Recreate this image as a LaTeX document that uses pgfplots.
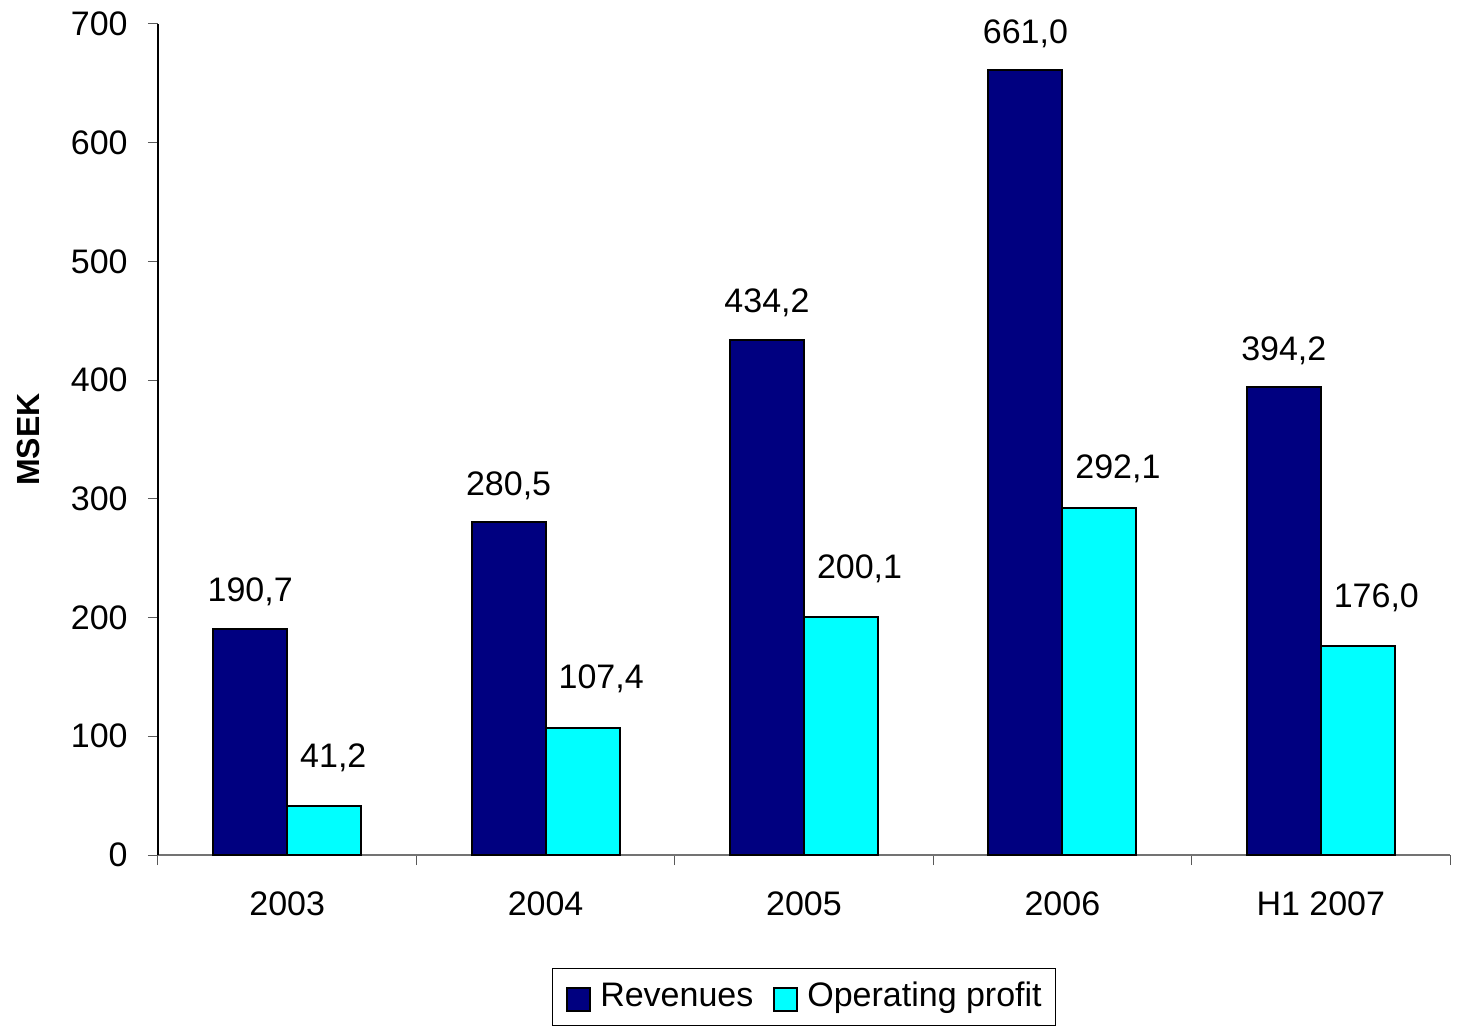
\documentclass[border=0pt]{standalone}
\usepackage{fontspec}
\setmainfont{Liberation Sans}
\usepackage{pgfplots}
\pgfplotsset{compat=1.18}
\definecolor{revcol}{HTML}{000080}
\definecolor{opcol}{HTML}{00FFFF}

\begin{document}
\fontsize{17}{20}\selectfont
\begin{tikzpicture}
\path[use as bounding box] (-79pt,-86.5pt) rectangle (649.5pt,427.5pt);
\begin{axis}[
    at={(0,0)}, anchor=south west,
    scale only axis,
    width=646pt, height=415.5pt,
    ybar=0pt, bar width=37pt,
    xmin=-0.5, xmax=4.5,
    ymin=0, ymax=700,
    xtick={0,...,4},
    xticklabels={2003,2004,2005,2006,H1 2007},
    ytick={0,100,...,700},
    minor xtick={-0.5,0.5,...,4.5},
    minor ytick={0,100,...,700},
    major tick length=0pt,
    minor tick length=5pt,
    tick align=outside,
    tick style={black!65, line width=0.5pt},
    axis x line*=bottom, axis y line*=left,
    x axis line style={black!55, line width=0.6pt},
    y axis line style={black, line width=0.6pt},
    /pgf/number format/assume math mode=true,
    xticklabel style={anchor=base, inner sep=0pt, yshift=-30pt},
    yticklabel style={anchor=east, inner sep=0pt, xshift=-15pt},
    ylabel={\fontsize{16}{19}\selectfont\bfseries MSEK},
    ylabel style={at={(axis description cs:-0.1006,0.5)}, anchor=center},
    nodes near coords,
    nodes near coords style={text=black, inner sep=0pt,
        /pgf/number format/fixed, /pgf/number format/fixed zerofill,
        /pgf/number format/precision=1, /pgf/number format/use comma},
    legend columns=2,
    legend style={at={(axis description cs:0.5,0)}, anchor=north, yshift=-56.5pt,
        draw=black, line width=0.6pt, inner xsep=7pt, inner ysep=6.5pt,
        nodes={inner sep=0pt, anchor=base}, column sep=4.5pt,
        /tikz/every even column/.append style={column sep=10pt}},
    legend image code/.code={\draw[#1, line width=1pt] (0pt,-2.5pt) rectangle (11.5pt,9pt);},
]
\addplot[fill=revcol, draw=black, line width=1pt,
    every node near coord/.append style={anchor=base, yshift=13.5pt}]
    coordinates {(0,190.7) (1,280.5) (2,434.2) (3,661.0) (4,394.2)};
\addplot[fill=opcol, draw=black, line width=1pt,
    every node near coord/.append style={anchor=base west, xshift=-12.5pt, yshift=19.5pt},
    coordinate style/.condition={\coordindex==3}{yshift=-4.5pt}]
    coordinates {(0,41.2) (1,107.4) (2,200.1) (3,292.1) (4,176.0)};
\legend{Revenues, Operating profit}
\end{axis}
\end{tikzpicture}
\end{document}
